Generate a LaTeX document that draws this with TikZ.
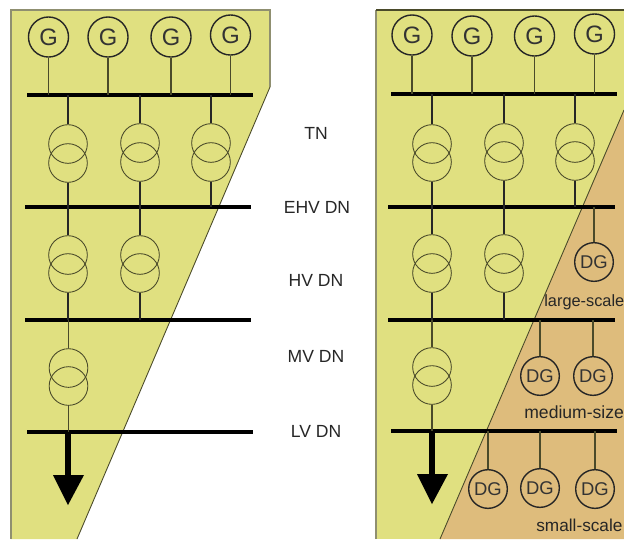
\documentclass[tikz,border=0pt]{standalone}
\usepackage{fontspec}
\setmainfont{Liberation Sans}

\definecolor{zoneyellow}{HTML}{E0E080}
\definecolor{zoneorange}{HTML}{DEBC7C}
\definecolor{zoneedge}{HTML}{8F8F70}
\definecolor{wirecol}{HTML}{4A4A2A}

\tikzset{
  gen/.style={draw=black!85, circle, line width=0.8pt, minimum size=22.8pt, inner sep=0pt, font=\fontsize{13.5}{14}\selectfont, text=black!80},
  dgen/.style={draw=black!85, circle, line width=0.8pt, minimum size=22pt, inner sep=0pt, font=\fontsize{10.5}{11}\selectfont, text=black!80},
  coil/.style={draw=wirecol, circle, line width=0.5pt, minimum size=22pt, inner sep=0pt},
  bus/.style={line width=2pt, black},
  wire/.style={line width=0.6pt, wirecol},
  heavy/.style={line width=1.1pt, black!85},
  level/.style={font=\fontsize{10}{12}\selectfont, text=black!85},
  scalelab/.style={font=\fontsize{10}{12}\selectfont, text=black!85, anchor=west}
}

\begin{document}
\begin{tikzpicture}[x=0.02cm,y=-0.02cm]

\useasboundingbox (0,0) rectangle (624,539);

% Left zone
\fill[zoneyellow] (11,10) -- (270,10) -- (270,87) -- (77,539) -- (11,539) -- cycle;
\draw[zoneedge, line width=0.8pt] (11,539) -- (11,10) -- (270,10) -- (270,87);
\draw[wirecol, line width=0.5pt] (270,87) -- (77,539);

% Right zone
\fill[zoneyellow] (376,10) rectangle (624,539);
\fill[zoneorange] (624,110) -- (624,539) -- (440,539) -- cycle;
\draw[zoneedge, line width=0.8pt] (376,539) -- (376,10);
\draw[wirecol, line width=0.6pt] (376,10) -- (624,10);
\draw[wirecol, line width=0.5pt] (624,110) -- (440,539);

% Left busbars
\coordinate (tnla) at (27,95);
\coordinate (tnlb) at (253,95);
\coordinate (ehvla) at (25,207);
\coordinate (ehvlb) at (251,207);
\coordinate (hvla) at (25,320);
\coordinate (hvlb) at (251,320);
\coordinate (lvla) at (27,432);
\coordinate (lvlb) at (253,432);

\draw[bus] (tnla) -- (tnlb);
\draw[bus] (ehvla) -- (ehvlb);
\draw[bus] (hvla) -- (hvlb);
\draw[bus] (lvla) -- (lvlb);

% Right busbars
\coordinate (tnra) at (391,94);
\coordinate (tnrb) at (617,94);
\coordinate (ehvra) at (388,207);
\coordinate (ehvrb) at (615,207);
\coordinate (hvra) at (388,320);
\coordinate (hvrb) at (615,320);
\coordinate (lvra) at (391,431);
\coordinate (lvrb) at (617,431);

\draw[bus] (tnra) -- (tnrb);
\draw[bus] (ehvra) -- (ehvrb);
\draw[bus] (hvra) -- (hvrb);
\draw[bus] (lvra) -- (lvrb);

% Left generators
\node[gen] (genla) at (48.5,37) {G};
\node[gen] (genlb) at (108,37) {G};
\node[gen] (genlc) at (171,37) {G};
\node[gen] (genld) at (230.5,35) {G};

\draw[wire] (genla) -- (genla |- tnla);
\draw[wire] (genlb) -- (genlb |- tnla);
\draw[wire] (genlc) -- (genlc |- tnla);
\draw[wire] (genld) -- (genld |- tnla);

% Right generators
\node[gen] (genra) at (412,35) {G};
\node[gen] (genrb) at (472,36) {G};
\node[gen] (genrc) at (534.5,36) {G};
\node[gen] (genrd) at (594.5,34) {G};

\draw[wire] (genra) -- (genra |- tnra);
\draw[wire] (genrb) -- (genrb |- tnra);
\draw[wire] (genrc) -- (genrc |- tnra);
\draw[wire] (genrd) -- (genrd |- tnra);

% Left transformers, upper row
\node[coil] (cola) at (68,144) {};
\node[coil] (colb) at (68,163) {};
\node[coil] (colc) at (140,143) {};
\node[coil] (cold) at (140,162) {};
\node[coil] (cole) at (211,143) {};
\node[coil] (colf) at (211,162) {};

\draw[heavy] (cola) -- (cola |- tnla);
\draw[heavy] (colc) -- (colc |- tnla);
\draw[heavy] (cole) -- (cole |- tnla);
\draw[heavy] (colb) -- (colb |- ehvla);
\draw[heavy] (cold) -- (cold |- ehvla);
\draw[heavy] (colf) -- (colf |- ehvla);

% Left transformers, middle row
\node[coil] (colg) at (68,255) {};
\node[coil] (colh) at (68,273) {};
\node[coil] (coli) at (140,255) {};
\node[coil] (colj) at (140,273) {};

\draw[heavy] (colg) -- (colg |- ehvla);
\draw[heavy] (coli) -- (coli |- ehvla);
\draw[heavy] (colh) -- (colh |- hvla);
\draw[heavy] (colj) -- (colj |- hvla);

% Left transformer, lower row
\node[coil] (colk) at (68.5,368) {};
\node[coil] (coll) at (68.5,386) {};

\draw[wire] (colk) -- (colk |- hvla);
\draw[wire] (coll) -- (coll |- lvla);

% Right transformers, upper row
\node[coil] (cora) at (432,144) {};
\node[coil] (corb) at (432,162) {};
\node[coil] (corc) at (504,143) {};
\node[coil] (cord) at (504,161) {};
\node[coil] (core) at (575,143) {};
\node[coil] (corf) at (575,161) {};

\draw[heavy] (cora) -- (cora |- tnra);
\draw[heavy] (corc) -- (corc |- tnra);
\draw[heavy] (core) -- (core |- tnra);
\draw[heavy] (corb) -- (corb |- ehvra);
\draw[heavy] (cord) -- (cord |- ehvra);
\draw[heavy] (corf) -- (corf |- ehvra);

% Right transformers, middle row
\node[coil] (corg) at (432,254) {};
\node[coil] (corh) at (432,273) {};
\node[coil] (cori) at (504,254) {};
\node[coil] (corj) at (504,273) {};

\draw[heavy] (corg) -- (corg |- ehvra);
\draw[heavy] (cori) -- (cori |- ehvra);
\draw[heavy] (corh) -- (corh |- hvra);
\draw[heavy] (corj) -- (corj |- hvra);

% Right transformer, lower row
\node[coil] (cork) at (432,367) {};
\node[coil] (corl) at (432,385) {};

\draw[wire] (cork) -- (cork |- hvra);
\draw[wire] (corl) -- (corl |- lvra);

% Loads
\coordinate (loadlt) at (68,505);
\coordinate (loadlb) at (68,476);
\coordinate (loadrt) at (432,504);
\coordinate (loadrb) at (432,475);

\draw[black, line width=3.4pt] (loadlb |- lvla) -- (loadlb);
\fill[black] (53,475) -- (84,475) -- (loadlt) -- cycle;
\draw[black, line width=3.4pt] (loadrb |- lvra) -- (loadrb);
\fill[black] (417,474) -- (448,474) -- (loadrt) -- cycle;

% Distributed generation
\node[dgen] (dga) at (594,262) {DG};
\node[dgen] (dgb) at (540,376) {DG};
\node[dgen] (dgc) at (593,376) {DG};
\node[dgen] (dgd) at (488,489) {DG};
\node[dgen] (dge) at (540,488) {DG};
\node[dgen] (dgf) at (595,489) {DG};

\draw[wire] (dga) -- (dga |- ehvra);
\draw[wire] (dgb) -- (dgb |- hvra);
\draw[wire] (dgc) -- (dgc |- hvra);
\draw[wire] (dgd) -- (dgd |- lvra);
\draw[wire] (dge) -- (dge |- lvra);
\draw[wire] (dgf) -- (dgf |- lvra);

\node[scalelab, inner sep=0pt, font=\fontsize{9.3}{12}\selectfont] (large) at (544,302) {large-scale};
\node[scalelab, inner sep=0pt] (medium) at (524,412) {medium-size};
\node[scalelab, inner sep=0pt, font=\fontsize{9.8}{12}\selectfont] (small) at (536,525) {small-scale};

% Levels
\node[level] (tn) at (316,133) {TN};
\node[level] (ehv) at (317,207) {EHV DN};
\node[level] (hv) at (316,280) {HV DN};
\node[level] (mv) at (316,356) {MV DN};
\node[level] (lv) at (316,431) {LV DN};

\end{tikzpicture}
\end{document}
